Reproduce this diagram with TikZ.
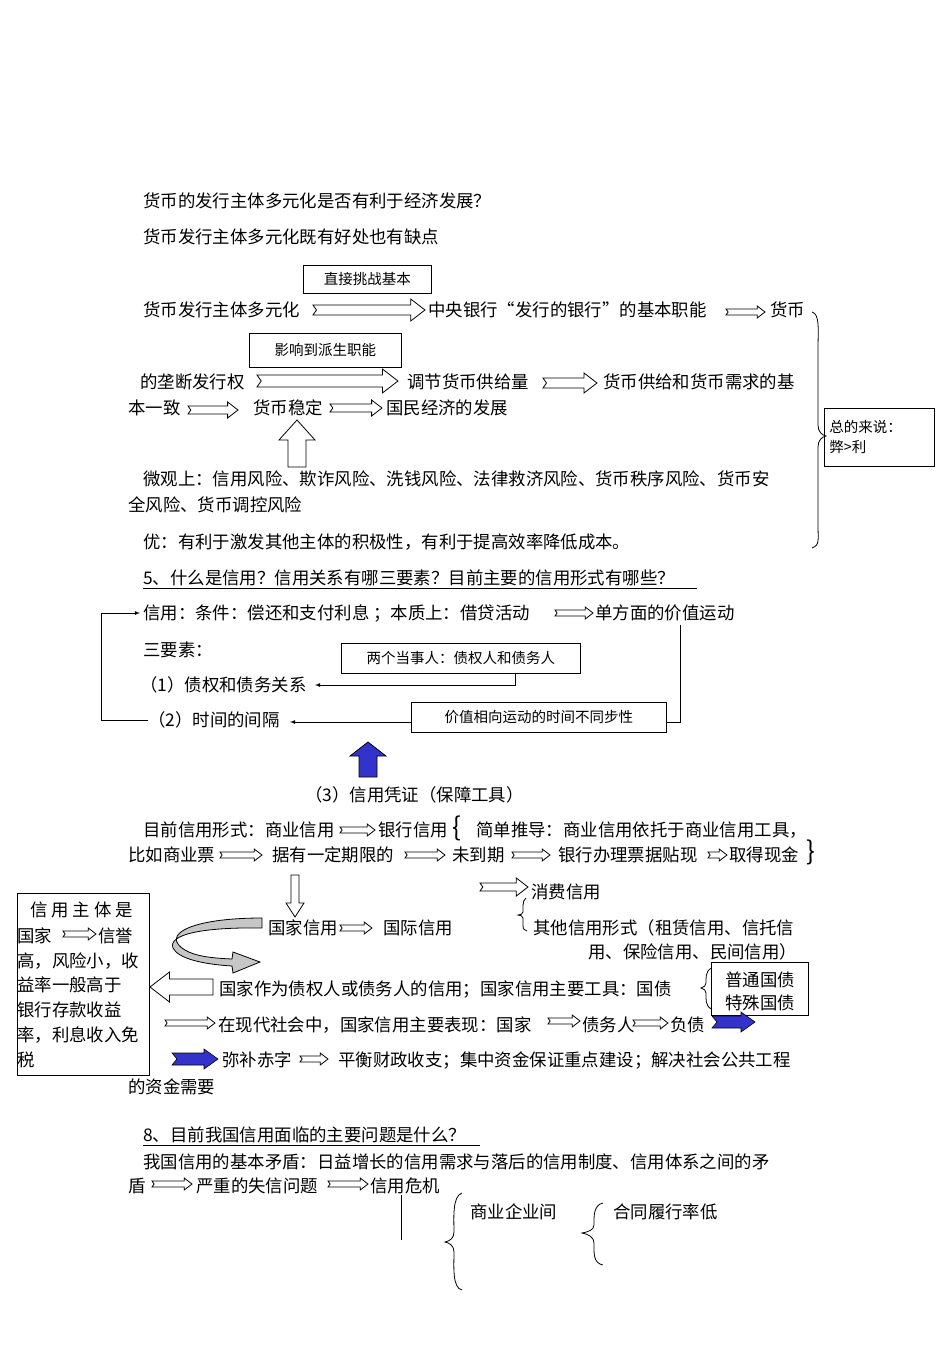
\documentclass[tikz,border=0pt]{standalone}
\usepackage{fontspec}
\setmainfont{Noto Sans CJK SC}
\newcommand\harr[5]{\draw[line width=0.8pt,fill=white] (#1,{#3-#4}) -- ({#2-1.3*#5},{#3-#4}) -- ({#2-1.3*#5},{#3-#5}) -- (#2,#3) -- ({#2-1.3*#5},{#3+#5}) -- ({#2-1.3*#5},{#3+#4}) -- (#1,{#3+#4}) -- ({#1+0.7*#4},#3) -- cycle;}
\newcommand\larr[5]{\draw[line width=0.8pt,fill=white] (#1,{#3-#4}) -- ({#2+1.3*#5},{#3-#4}) -- ({#2+1.3*#5},{#3-#5}) -- (#2,#3) -- ({#2+1.3*#5},{#3+#5}) -- ({#2+1.3*#5},{#3+#4}) -- (#1,{#3+#4}) -- cycle;}
\newcommand\varr[7]{\draw[line width=0.8pt,fill=#6] ({#1-#4},#2) -- ({#1-#4},{#3+#7}) -- ({#1-#5},{#3+#7}) -- (#1,#3) -- ({#1+#5},{#3+#7}) -- ({#1+#4},{#3+#7}) -- ({#1+#4},#2) -- cycle;}
\newcommand\barr[4]{\draw[line width=0.6pt,fill=blue!75!black!80] (#1,{#3-6}) -- ({#2-14},{#3-6}) -- ({#2-14},{#3-10}) -- (#2,#3) -- ({#2-14},{#3+10}) -- ({#2-14},{#3+6}) -- (#1,{#3+6}) -- ({#1+5},#3) -- cycle;}
\begin{document}
\begin{tikzpicture}[x=1pt,y=-1pt,
  t/.style={anchor=west,inner sep=0pt,font=\fontsize{17.4}{19}\selectfont},
  bx/.style={draw,line width=0.8pt,anchor=north west,inner sep=0pt,font=\fontsize{14.5}{16}\selectfont},
  ln/.style={line width=0.8pt}]
\useasboundingbox[fill=white] (0,0) rectangle (950,1345);
\node[t] (a1) at (143,201) {货币的发行主体多元化是否有利于经济发展？};
\node[t] (a2) at (143,237) {货币发行主体多元化既有好处也有缺点};
\node[bx,minimum width=128pt,minimum height=28pt] (b1) at (303,265) {直接挑战基本};
\node[t] (a3) at (143,310) {货币发行主体多元化};
\harr{313}{425}{310}{5}{11}
\node[t] (a4) at (428,310) {中央银行“发行的银行”的基本职能};
\harr{726}{765}{312}{3}{6}
\node[t] (a5) at (770,310) {货币};
\node[bx,minimum width=152pt,minimum height=34pt] (b2) at (249,333) {影响到派生职能};
\node[t] (a6) at (140,382) {的垄断发行权};
\harr{257}{398}{381}{6}{12}
\node[t] (a7) at (407,382) {调节货币供给量};
\harr{543}{597}{383}{5}{10}
\node[t] (a8) at (603,382) {货币供给和货币需求的基};
\node[t] (a9) at (128,408) {本一致};
\harr{188}{238}{410}{4}{8}
\node[t] (a10) at (253,408) {货币稳定};
\harr{330}{382}{408}{4}{8}
\node[t] (a11) at (386,408) {国民经济的发展};
\draw[line width=0.8pt,fill=white] (288,467) -- (288,440) -- (279,440) -- (297,420) -- (315,440) -- (306,440) -- (306,467) -- cycle;
\node[t] (a12) at (143,479) {微观上：信用风险、欺诈风险、洗钱风险、法律救济风险、货币秩序风险、货币安};
\node[t] (a13) at (128,505) {全风险、货币调控风险};
\node[t] (a14) at (143,542) {优：有利于激发其他主体的积极性，有利于提高效率降低成本。};
\draw[ln] (812,312) .. controls (820,314) and (818,330) .. (818,350) -- (818,425) .. controls (818,432) and (822,435) .. (826,436) .. controls (822,437) and (818,440) .. (818,447) -- (818,525) .. controls (818,540) and (820,545) .. (812,548);
\node[bx,minimum width=110pt,minimum height=58pt,align=left,text width=100pt] (b3) at (824,408) {总的来说：\\[4pt]弊>利};
\node[t] (c1) at (143,578) {5、什么是信用？信用关系有哪三要素？目前主要的信用形式有哪些？};
\draw[ln] (143,588) -- (697,588);
\node[t] (c2) at (143,613) {信用：条件：偿还和支付利息 ；本质上：借贷活动};
\harr{555}{593}{613}{3}{6}
\node[t] (c3) at (595,613) {单方面的价值运动};
\node[t] (c4) at (143,650) {三要素：};
\node[bx,minimum width=239pt,minimum height=30pt] (b4) at (341,643) {两个当事人：债权人和债务人};
\node[t] (c5) at (140,685) {（1）债权和债务关系};
\node[t] (c6) at (148,720) {（2）时间的间隔};
\node[bx,minimum width=255pt,minimum height=30pt] (b5) at (411,702) {价值相向运动的时间不同步性};
\draw[ln,-latex] (515,673) -- (515,685) -- (315,685);
\draw[ln,-latex] (411,722) -- (290,722);
\draw[ln] (680,625) -- (680,722) -- (666,722);
\draw[ln,-latex] (148,720) -- (101,720) -- (101,613) -- (140,613);
\varr{368}{777}{742}{9}{18}{blue!75!black!80}{14}
\node[t] (c7) at (305,795) {（3）信用凭证（保障工具）};
\node[t] (d1) at (143,830) {目前信用形式：商业信用};
\harr{340}{375}{830}{3}{6}
\node[t] (d2) at (378,830) {银行信用};
\node[t,font=\fontsize{26}{26}\selectfont] (d3) at (452,828) {\{};
\node[t] (d4) at (476,830) {简单推导：商业信用依托于商业信用工具，};
\node[t] (d5) at (128,855) {比如商业票};
\harr{220}{262}{855}{3}{6}
\node[t] (d6) at (272,855) {据有一定期限的};
\harr{405}{445}{855}{3}{6}
\node[t] (d7) at (452,855) {未到期};
\harr{512}{550}{855}{3}{6}
\node[t] (d8) at (558,855) {银行办理票据贴现};
\harr{708}{727}{855}{3}{6}
\node[t] (d9) at (729,855) {取得现金};
\node[t,font=\fontsize{26}{26}\selectfont] (d10) at (806,852) {\}};
\draw[line width=0.8pt,fill=white] (291,875) -- (291,903) -- (286,903) -- (295,917) -- (304,903) -- (299,903) -- (299,875) -- cycle;
\harr{480}{528}{887}{4}{9}
\node[t] (e1) at (531,892) {消费信用};
\draw[ln] (526,898) .. controls (522,900) and (523,910) .. (523,912) .. controls (523,914) and (520,915) .. (518,915) .. controls (520,915) and (523,916) .. (523,918) -- (523,925) .. controls (523,929) and (524,930) .. (527,931);
\node[t] (e2) at (533,928) {其他信用形式（租赁信用、信托信};
\node[t] (e3) at (588,952) {用、保险信用、民间信用）};
\node[t] (e4) at (268,928) {国家信用};
\harr{340}{372}{928}{3}{6}
\node[t] (e5) at (383,928) {国际信用};
\draw[line width=0.8pt,fill=gray!45] (262,918) .. controls (190,918) and (160,935) .. (185,950) .. controls (195,956) and (210,958) .. (232,959) -- (233,952) -- (260,962) -- (233,973) -- (232,966) .. controls (200,964) and (178,958) .. (173,948) .. controls (168,935) and (200,927) .. (262,928) -- cycle;
\draw[line width=0.8pt] (17,893) rectangle (149,1075);
\node[t] (f1) at (30,910) {信 用 主 体 是};
\node[t] (f2) at (17,936) {国家};
\harr{63}{96}{934}{3}{6}
\node[t] (f3) at (98,936) {信誉};
\node[t] (f4) at (17,961) {高，风险小，收};
\node[t] (f5) at (17,985) {益率一般高于};
\node[t] (f6) at (17,1010) {银行存款收益};
\node[t] (f7) at (17,1035) {率，利息收入免};
\node[t] (f8) at (17,1060) {税};
\larr{213}{150}{987}{8}{15}
\node[t] (g1) at (219,990) {国家作为债权人或债务人的信用；国家信用主要工具：国债};
\draw[ln] (712,968) .. controls (705,970) and (706,980) .. (706,983) .. controls (706,986) and (704,987) .. (701,988) .. controls (704,989) and (706,990) .. (706,993) .. controls (706,998) and (705,1007) .. (712,1009);
\node[bx,minimum width=97pt,minimum height=53pt] (b6) at (711,962) {};
\node[t] (g2) at (725,980) {普通国债};
\node[t] (g3) at (725,1003) {特殊国债};
\harr{165}{215}{1023}{3}{6}
\node[t] (h1) at (218,1025) {在现代社会中，国家信用主要表现：国家};
\harr{548}{580}{1021}{3}{6}
\node[t] (h2) at (582,1025) {债务人};
\harr{633}{668}{1023}{3}{6}
\node[t] (h3) at (670,1025) {负债};
\barr{712}{755}{1022}{0}
\barr{172}{218}{1059}{0}
\node[t] (h4) at (222,1060) {弥补赤字};
\harr{300}{328}{1059}{3}{6}
\node[t] (h5) at (338,1060) {平衡财政收支；集中资金保证重点建设；解决社会公共工程};
\node[t] (h6) at (128,1087) {的资金需要};
\node[t] (k1) at (143,1135) {8、目前我国信用面临的主要问题是什么？};
\draw[ln] (143,1145) -- (480,1145);
\node[t] (k2) at (143,1162) {我国信用的基本矛盾：日益增长的信用需求与落后的信用制度、信用体系之间的矛};
\node[t] (k3) at (128,1186) {盾};
\harr{152}{192}{1184}{3}{6}
\node[t] (k4) at (196,1186) {严重的失信问题};
\harr{328}{368}{1184}{3}{6}
\node[t] (k5) at (370,1186) {信用危机};
\draw[ln] (401,1195) -- (401,1240);
\draw[ln] (462,1193) .. controls (452,1196) and (454,1220) .. (454,1232) .. controls (454,1238) and (450,1241) .. (445,1242) .. controls (450,1243) and (454,1246) .. (454,1252) .. controls (454,1265) and (452,1288) .. (462,1290);
\node[t] (k6) at (470,1212) {商业企业间};
\draw[ln] (603,1203) .. controls (593,1205) and (594,1218) .. (594,1225) .. controls (594,1230) and (588,1232) .. (582,1233) .. controls (588,1234) and (594,1237) .. (594,1243) .. controls (594,1253) and (593,1263) .. (603,1265);
\node[t] (k7) at (613,1212) {合同履行率低};
\end{tikzpicture}
\end{document}
